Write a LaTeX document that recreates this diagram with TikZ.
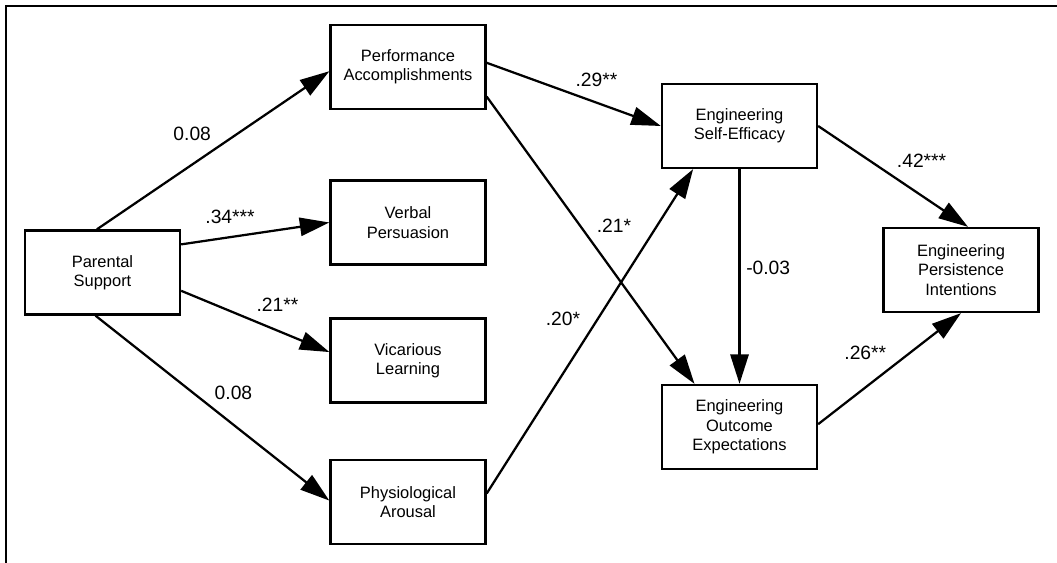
\documentclass[tikz,border=0pt]{standalone}
\usepackage{fontspec}
\setmainfont{Liberation Sans}
\usetikzlibrary{arrows.meta,positioning}

\begin{document}
\begin{tikzpicture}[x=0.025cm,y=-0.025cm,
  every node/.style={font=\fontsize{11.7}{13.8}\selectfont},
  box/.style={draw,line width=1.6pt,minimum width=3.875cm,minimum height=2.1cm,align=center,inner sep=2pt},
  arr/.style={-{Triangle[length=21pt,width=13pt]},line width=1.6pt},
  lab/.style={font=\fontsize{13.7}{14}\selectfont,inner sep=0pt}]
  \useasboundingbox (0,0) rectangle (1057,563);
  \draw[line width=1.6pt] (6,563) -- (6,6) -- (1057,6);
  % sources of efficacy
  \node[box] (ps) at (102.5,272.5) {Parental\\Support};
  \node[box] (pa) at (408,67) {Performance\\Accomplishments};
  \node[box] (vp) at (408,222.5) {Verbal\\Persuasion};
  \node[box] (vl) at (408,360.5) {Vicarious\\Learning};
  \node[box] (phys) at (408,502) {Physiological\\Arousal};
  % outcomes
  \node[box] (ese) at (739.5,126) {Engineering\\Self-Efficacy};
  \node[box] (eoe) at (739.5,427) {Engineering\\Outcome\\Expectations};
  \node[box] (epi) at (961,270) {Engineering\\Persistence\\Intentions};
  \draw[arr] ([xshift=-4pt]ps.north) -- node[lab,pos=.41,above=16pt]{0.08} ([yshift=-3pt]pa.west);
  \draw[arr] ([yshift=20pt]ps.east) -- node[lab,pos=.33,above=8.5pt]{.34***} (vp.west);
  \draw[arr] ([yshift=-13pt]ps.east) -- node[lab,pos=.65,above=12.5pt]{.21**} ([yshift=6pt]vl.west);
  \draw[arr] ([xshift=-5pt]ps.south) -- node[lab,pos=.59,above=17pt]{0.08} ([yshift=1pt]phys.west);
  \draw[arr] ([yshift=3pt]pa.east) -- node[lab,pos=.63,above=10.5pt]{.29**} (ese.west);
  \draw[arr] ([yshift=-21pt]pa.east) -- node[lab,pos=.45,right=11pt]{.21*} ([xshift=-32pt]eoe.north);
  \draw[arr] ([yshift=6pt]phys.east) -- node[lab,pos=.54,left=12pt]{.20*} ([xshift=-33pt]ese.south);
  \draw[arr] (ese.south) -- node[lab,pos=.46,right=4pt]{-0.03} (eoe.north);
  \draw[arr] (ese.east) -- node[lab,pos=.69,above=19pt]{.42***} ([xshift=5pt]epi.north);
  \draw[arr] ([yshift=2pt]eoe.east) -- node[lab,pos=.33,above=19pt]{.26**} (epi.south);
\end{tikzpicture}
\end{document}
